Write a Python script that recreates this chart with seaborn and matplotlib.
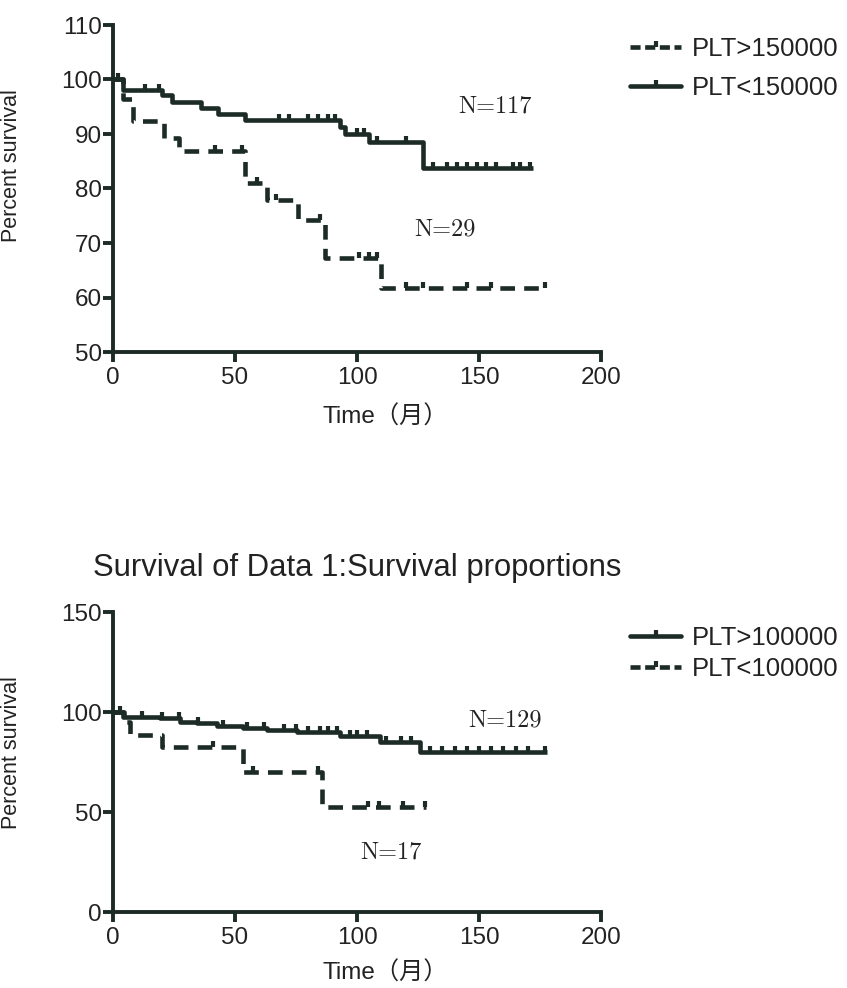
import numpy as np
import matplotlib
matplotlib.use("Agg")
import matplotlib.pyplot as plt
import seaborn as sns
from matplotlib.lines import Line2D

# ---------------- data ----------------
# top panel
top_solid_label = "PLT<150000"
top_solid_time = [0, 4, 20, 24, 36, 43, 54, 93, 95, 105, 127, 172]
top_solid_surv = [100, 98.1, 97.2, 95.9, 94.7, 93.7, 92.6, 91.3, 90.0, 88.6, 83.7, 83.7]
top_solid_cens = [2, 13, 19, 68, 72, 80, 84, 88, 91, 100, 103, 108, 120,
                  131, 137, 141, 145, 149, 153, 157, 164, 167, 171]
top_dash_label = "PLT>150000"
top_dash_time = [0, 4, 8, 21, 27, 54, 63, 76, 87, 110, 177.5]
top_dash_surv = [100, 96.5, 92.3, 89.2, 86.8, 81.0, 77.9, 74.2, 67.2, 61.7, 61.7]
top_dash_cens = [42, 53, 59, 67, 85, 101, 105, 108, 120, 127, 145, 155, 177]
top_n_solid = "N=117"
top_n_dash = "N=29"

# bottom panel
bot_solid_label = "PLT>100000"
bot_solid_time = [0, 4.2, 19.3, 27.5, 34.3, 42.5, 53.4, 63, 75.3, 93, 109.4, 125.8, 177.7]
bot_solid_surv = [100, 97.7, 96.8, 95.2, 94.3, 93.2, 91.8, 91.0, 90.2, 88.2, 84.8, 80.2, 80.2]
bot_solid_cens = [3, 12, 20, 27, 35, 45, 55, 62, 70, 75, 80, 85, 88, 92, 97, 100, 104,
                  112, 118, 122, 130, 135, 140, 145, 150, 155, 160, 165, 170, 177]
bot_dash_label = "PLT<100000"
bot_dash_time = [0, 4.5, 7, 20, 53.4, 85.5, 128.4]
bot_dash_surv = [100, 95.2, 88.5, 82.7, 70.2, 52.7, 52.7]
bot_dash_cens = [41, 57.5, 84, 104.5, 109, 119, 128]
bot_n_solid = "N=129"
bot_n_dash = "N=17"

title_text = "Survival of Data 1:Survival proportions"
xlabel_text = "Time（月）"
ylabel_text = "Percent survival"
x_ticks = [0, 50, 100, 150, 200]
top_y_ticks = [50, 60, 70, 80, 90, 100, 110]
bot_y_ticks = [0, 50, 100, 150]

# ---------------- style ----------------
sns.set_style("ticks")
plt.rcParams["font.family"] = ["Liberation Sans", "Noto Sans CJK SC", "DejaVu Sans"]
INK = "#1c2b25"
TXT = "#222222"
LW = 3.3
DASH = (3.2, 2.0)

fig = plt.figure(figsize=(8.47, 9.88), dpi=100)
W, H = 847.0, 988.0


def axes_px(left, top, right, bottom):
    return fig.add_axes([left / W, 1 - bottom / H, (right - left) / W, (bottom - top) / H])


ax1 = axes_px(113, 25, 601, 352)
ax2 = axes_px(113, 612, 601, 912)


def step_value(times, surv, c):
    idx = np.searchsorted(np.asarray(times), np.asarray(c), side="right") - 1
    return np.asarray(surv)[idx]


def draw_curve(ax, t, s, cens, dashed):
    sns.lineplot(x=t, y=s, sort=False, color=INK, linewidth=LW, drawstyle="steps-post",
                 estimator=None, ax=ax)
    ln = ax.get_lines()[-1]
    if dashed:
        ln.set_dashes(DASH)
    ln.set_solid_capstyle("butt")
    ln.set_dash_capstyle("butt")
    cy = step_value(t, s, cens)
    sns.lineplot(x=cens, y=cy, estimator=None, ax=ax, color=INK, linestyle="none",
                 marker=2, markersize=4.5, mew=3.0, mec=INK)


def style_axes(ax, yticks, ylim, ylab_y, xlab_y):
    ax.set_xlim(0, 200)
    ax.set_ylim(*ylim)
    ax.set_xticks(x_ticks)
    ax.set_yticks(yticks)
    sns.despine(ax=ax)
    for side in ("left", "bottom"):
        ax.spines[side].set_linewidth(2.8)
        ax.spines[side].set_color(INK)
    ax.tick_params(axis="both", direction="out", length=7, width=2.8, color=INK,
                   labelsize=17.5, labelcolor=TXT)
    ax.tick_params(axis="y", pad=1)
    ax.tick_params(axis="x", pad=4)
    ax.set_xlabel(xlabel_text, fontsize=17.5, color=TXT)
    ax.set_ylabel(ylabel_text, fontsize=15.5, color=TXT)
    ax.yaxis.set_label_coords(-0.186, ylab_y)
    ax.xaxis.set_label_coords(0.558, xlab_y)
    ax.set_facecolor("white")


# top panel
draw_curve(ax1, top_solid_time, top_solid_surv, top_solid_cens, dashed=False)
draw_curve(ax1, top_dash_time, top_dash_surv, top_dash_cens, dashed=True)
style_axes(ax1, top_y_ticks, (50, 110), 0.57, -0.165)
ax1.text(156.6, 95.0, top_n_solid, ha="center", va="center", family="cmr10", fontsize=17.5, color=TXT)
ax1.text(136, 72.4, top_n_dash, ha="center", va="center", family="cmr10", fontsize=17.5, color=TXT)

# bottom panel
draw_curve(ax2, bot_solid_time, bot_solid_surv, bot_solid_cens, dashed=False)
draw_curve(ax2, bot_dash_time, bot_dash_surv, bot_dash_cens, dashed=True)
style_axes(ax2, bot_y_ticks, (0, 150), 0.53, -0.165)
ax2.text(160.7, 96, bot_n_solid, ha="center", va="center", family="cmr10", fontsize=17.5, color=TXT)
ax2.text(114, 30, bot_n_dash, ha="center", va="center", family="cmr10", fontsize=17.5, color=TXT)
ax2.set_title(title_text, fontsize=22.3, color=TXT, pad=26)


def handle(dashed):
    h = Line2D([], [], color=INK, linewidth=LW, marker=2, markersize=4.5, mew=3.0, mec=INK)
    if dashed:
        h.set_dashes((2.2, 1.0))
    return h


ax1.legend([handle(True), handle(False)], [top_dash_label, top_solid_label],
           loc="upper left", bbox_to_anchor=((630 - 113) / 488, (352 - 37) / 327),
           frameon=False, fontsize=18.5, handlelength=2.0, handletextpad=0.4,
           labelspacing=0.6, borderaxespad=0, borderpad=0, labelcolor=TXT)
ax2.legend([handle(False), handle(True)], [bot_solid_label, bot_dash_label],
           loc="upper left", bbox_to_anchor=((630 - 113) / 488, (912 - 626) / 300),
           frameon=False, fontsize=18.5, handlelength=2.0, handletextpad=0.4,
           labelspacing=0.28, borderaxespad=0, borderpad=0, labelcolor=TXT)

fig.savefig("out.png", dpi=100, facecolor="white")
